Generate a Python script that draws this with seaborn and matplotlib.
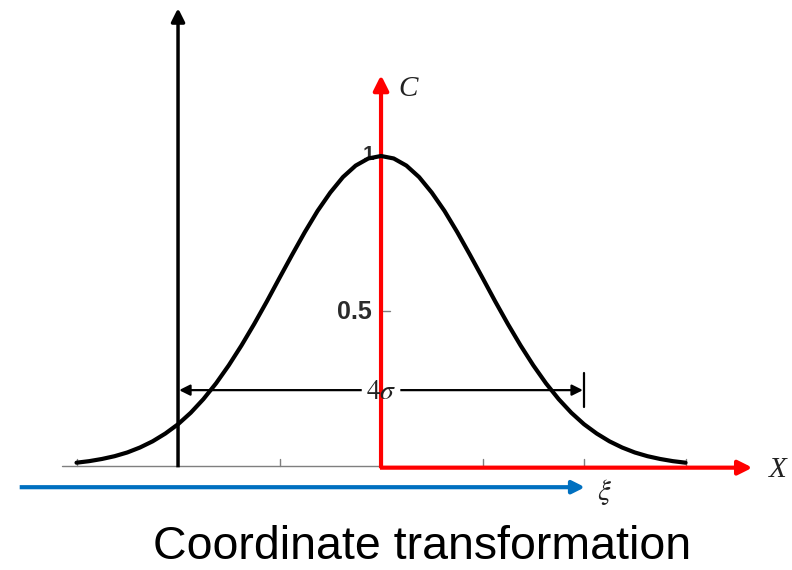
import matplotlib
matplotlib.use("Agg")
import matplotlib.pyplot as plt
import seaborn as sns
import pandas as pd

sns.set_theme(style="white")
plt.rcParams["font.family"] = ["Liberation Sans", "DejaVu Sans"]
plt.rcParams["text.color"] = "black"

# Concentration profile C(X) in units of sigma
x_vals = [-3.0, -2.875, -2.75, -2.625, -2.5, -2.375, -2.25, -2.125, -2.0, -1.875,
          -1.75, -1.625, -1.5, -1.375, -1.25, -1.125, -1.0, -0.875, -0.75, -0.625,
          -0.5, -0.375, -0.25, -0.125, 0.0, 0.125, 0.25, 0.375, 0.5, 0.625, 0.75,
          0.875, 1.0, 1.125, 1.25, 1.375, 1.5, 1.625, 1.75, 1.875, 2.0, 2.125,
          2.25, 2.375, 2.5, 2.625, 2.75, 2.875, 3.0]
c_vals = [0.011, 0.016, 0.023, 0.032, 0.044, 0.060, 0.080, 0.105, 0.135, 0.172,
          0.216, 0.267, 0.325, 0.389, 0.458, 0.531, 0.607, 0.682, 0.755, 0.823,
          0.882, 0.932, 0.969, 0.992, 1.000, 0.992, 0.969, 0.932, 0.882, 0.823,
          0.755, 0.682, 0.607, 0.531, 0.458, 0.389, 0.325, 0.267, 0.216, 0.172,
          0.135, 0.105, 0.080, 0.060, 0.044, 0.032, 0.023, 0.016, 0.011]

x_ticks = [-3, -1, 1, 2, 3]
c_ticks = [1.0, 0.5]
c_tick_labels = ["1", "0.5"]
xi_origin = -2.0          # origin of the moving coordinate
width_label = r"$4\sigma$"
title = "Coordinate transformation"

df = pd.DataFrame({"X": x_vals, "C": c_vals})

fig = plt.figure(figsize=(7.92, 5.70), dpi=100)
ax = fig.add_axes([0, 0, 1, 1])
ax.set_xlim(-3.754, 4.049)
ax.set_ylim(-0.335, 1.503)
ax.axis("off")

gray = "#7f7f7f"
red = "#ff0000"
blue = "#0070c0"
label_color = "#2b2b2b"

# baseline and ticks
ax.plot([-3.14, 0.0], [0, 0], color=gray, lw=1.0, zorder=1)
for t in x_ticks:
    ax.plot([t, t], [0, 0.022], color=gray, lw=1.0, zorder=1)
ax.plot([0.02, 0.09], [0.5, 0.5], color=gray, lw=1.0, zorder=1)

# curve
sns.lineplot(data=df, x="X", y="C", ax=ax, color="black", lw=3.0,
             zorder=4, estimator=None, sort=False)


def arrow(x0, y0, x1, y1, color, lw, scale):
    ax.annotate("", xy=(x1, y1), xytext=(x0, y0),
                arrowprops=dict(arrowstyle="-|>,head_length=0.5,head_width=0.25",
                                color=color, lw=lw, mutation_scale=scale,
                                shrinkA=0, shrinkB=0, capstyle="butt"),
                zorder=3)


# fixed axes (black) at xi origin
arrow(xi_origin, -0.004, xi_origin, 1.477, "black", 2.5, 16)
# moving axes (red)
arrow(0.0, -0.007, 0.0, 1.261, red, 3.0, 18)
arrow(-0.01, -0.005, 3.66, -0.005, red, 3.0, 17)
# xi axis (blue)
arrow(-3.56, -0.068, 2.01, -0.068, blue, 3.0, 15)

# 4 sigma width marker
yw = 0.245
arrow(-0.19, yw, xi_origin + 0.01, yw, "black", 1.6, 13)
arrow(0.19, yw, 1.99, yw, "black", 1.6, 13)
ax.plot([2.0, 2.0], [0.19, 0.30], color="black", lw=1.6)
ax.text(0.0, yw - 0.005, width_label, ha="center", va="center", fontsize=20,
        color="#222222", math_fontfamily="stix")

# value labels on the C axis
ax.text(-0.07, c_ticks[0] + 0.005, c_tick_labels[0], ha="right", va="center",
        fontsize=15, fontweight="bold", color=label_color)
ax.text(-0.09, c_ticks[1] - 0.003, c_tick_labels[1], ha="right", va="center",
        fontsize=18, fontweight="bold", color=label_color)

# axis names
serif = dict(fontfamily="Liberation Serif", fontstyle="italic", fontsize=21,
             color="#222222")
ax.text(0.27, 1.215, "C", ha="center", va="center", **serif)
ax.text(3.91, -0.013, "X", ha="center", va="center", **serif)
ax.text(2.20, -0.085, r"$\xi$", ha="center", va="center", fontsize=21,
        color="#222222", math_fontfamily="stix")

ax.text(0.4, -0.298, title, ha="center", va="baseline", fontsize=33.5,
        color="black", fontfamily="Liberation Sans")

fig.savefig("out.png", dpi=100)
